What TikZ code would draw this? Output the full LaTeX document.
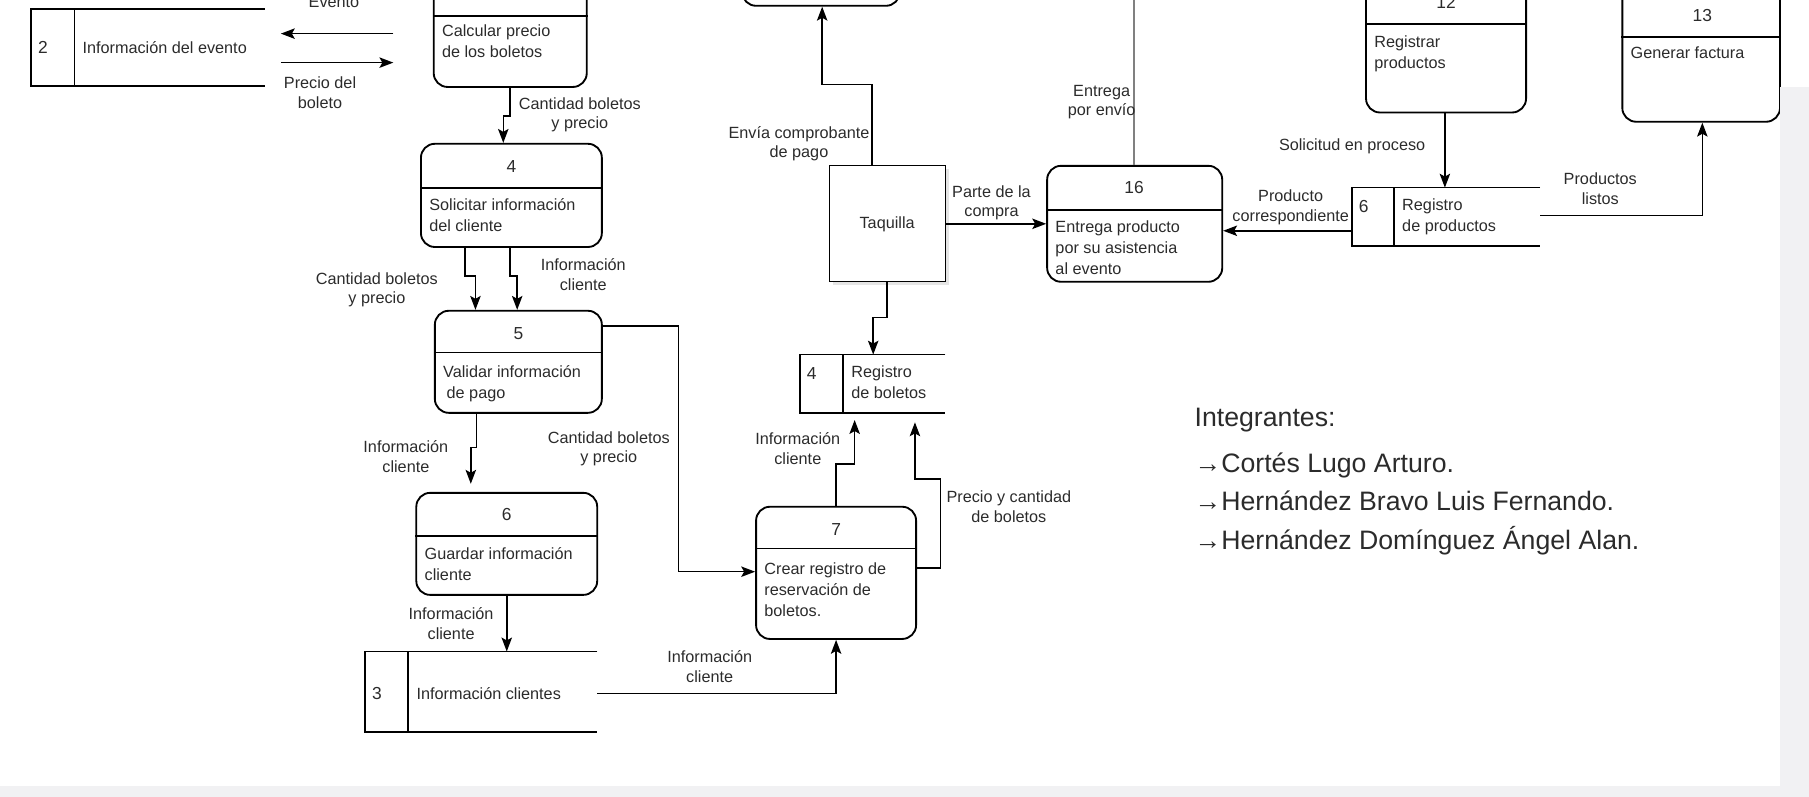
\documentclass[tikz,border=0pt]{standalone}
\usepackage{fontspec}
\setmainfont{Liberation Sans}
\usetikzlibrary{shadows,arrows.meta}
\definecolor{txtgray}{HTML}{2B2B2B}
\definecolor{stripgray}{HTML}{F1F1F3}
\definecolor{flowgray}{HTML}{808080}

\begin{document}
\begin{tikzpicture}[x=1pt, y=-1pt,
    proc/.style={draw, line width=1.6pt, rounded corners=12pt, inner sep=0pt},
    store/.style={inner sep=0pt},
    sline/.style={line width=1.2pt},
    num/.style={text=txtgray, font=\fontsize{15}{18}\selectfont, inner sep=0pt},
    txt/.style={text=txtgray, font=\fontsize{14}{18}\selectfont, align=left, anchor=north west, inner sep=0pt},
    lbl/.style={text=txtgray, font=\fontsize{14}{17}\selectfont, align=center, inner sep=0pt},
    team/.style={text=txtgray, font=\fontsize{23}{28}\selectfont, anchor=west, inner sep=0pt},
    flow/.style={line width=1.3pt, -{Stealth[length=12pt, width=9pt, inset=2.5pt]}}]
  \useasboundingbox (0,0) rectangle (1560,687);
  \clip (0,0) rectangle (1560,687);

  % stores
  \node[store, minimum width=201pt, minimum height=66pt] (s2) at (127.5,41) {};
  \draw[sline] (s2.north east) -- (s2.north west) -- (s2.south west) -- (s2.south east);
  \draw[sline] (s2.north -| 64,0) -- (s2.south -| 64,0);
  \node[num] (s2n) at (37,41) {2};
  \node[txt, anchor=west] (s2t) at (71,41) {Información del evento};

  \node[store, minimum width=200pt, minimum height=69pt] (s3) at (415,596.5) {};
  \draw[sline] (s3.north east) -- (s3.north west) -- (s3.south west) -- (s3.south east);
  \draw[sline] (s3.north -| 352,0) -- (s3.south -| 352,0);
  \node[num] (s3n) at (325,598) {3};
  \node[txt, anchor=west] (s3t) at (359,598) {Información clientes};

  \node[store, minimum width=125pt, minimum height=50pt] (s4) at (752.5,331) {};
  \draw[sline] (s4.north east) -- (s4.north west) -- (s4.south west) -- (s4.south east);
  \draw[sline] (s4.north -| 727,0) -- (s4.south -| 727,0);
  \node[num] (s4n) at (700,322) {4};
  \node[txt] (s4t) at (734,315) {Registro\\de boletos};

  \node[store, minimum width=162pt, minimum height=50pt] (s6) at (1247,187) {};
  \draw[sline] (s6.north east) -- (s6.north west) -- (s6.south west) -- (s6.south east);
  \draw[sline] (s6.north -| 1202,0) -- (s6.south -| 1202,0);
  \node[num] (s6n) at (1176,178) {6};
  \node[txt] (s6t) at (1209,171) {Registro\\de productos};

  % processes
  \node[proc, minimum width=136pt, minimum height=85pt] (tb) at (708,-37.5) {};

  \node[proc, minimum width=132pt, minimum height=95pt] (p3) at (440,27.5) {};
  \draw[line width=1.6pt] (p3.west |- 0,14) -- (p3.east |- 0,14);
  \node[txt] (p3t) at (381,21) {Calcular precio\\de los boletos};

  \node[proc, minimum width=156pt, minimum height=89pt] (p4) at (441,168.5) {};
  \draw[line width=1.6pt] (p4.west |- 0,162) -- (p4.east |- 0,162);
  \node[num] (p4n) at (441,144) {4};
  \node[txt] (p4t) at (370,171) {Solicitar información\\del cliente};

  \node[proc, minimum width=144pt, minimum height=88pt] (p5) at (447,312) {};
  \draw[line width=1.6pt] (p5.west |- 0,304) -- (p5.east |- 0,304);
  \node[num] (p5n) at (447,288) {5};
  \node[txt] (p5t) at (382,315) {Validar información\\\hspace*{3pt}de pago};

  \node[proc, minimum width=156pt, minimum height=88pt] (p6) at (437,469) {};
  \draw[line width=1.6pt] (p6.west |- 0,462) -- (p6.east |- 0,462);
  \node[num] (p6n) at (437,444) {6};
  \node[txt] (p6t) at (366,472) {Guardar información\\cliente};

  \node[proc, minimum width=138pt, minimum height=114pt] (p7) at (721,494) {};
  \draw[line width=1.6pt] (p7.west |- 0,473) -- (p7.east |- 0,473);
  \node[num] (p7n) at (721,457) {7};
  \node[txt] (p7t) at (659,485) {Crear registro de\\reservación de\\boletos.};

  \node[proc, minimum width=151pt, minimum height=100pt] (p16) at (978.5,193) {};
  \draw[line width=1.6pt] (p16.west |- 0,181) -- (p16.east |- 0,181);
  \node[num] (p16n) at (978,162) {16};
  \node[txt] (p16t) at (910,190) {Entrega producto\\por su asistencia\\al evento};

  \node[proc, minimum width=138pt, minimum height=127pt] (p12) at (1247,33.5) {};
  \draw[line width=1.6pt] (p12.west |- 0,21) -- (p12.east |- 0,21);
  \node[num] (p12n) at (1247,2) {12};
  \node[txt] (p12t) at (1185,31) {Registrar\\productos};

  \node[proc, minimum width=136pt, minimum height=135pt] (p13) at (1467,37.5) {};
  \draw[line width=1.6pt] (p13.west |- 0,32) -- (p13.east |- 0,32);
  \node[num] (p13n) at (1468,13) {13};
  \node[txt] (p13t) at (1406,40) {Generar factura};

  % entity
  \node[draw, line width=1pt, fill=white, minimum width=100pt, minimum height=100pt,
    drop shadow={shadow xshift=3pt, shadow yshift=-3pt, fill=black!20},
    text=txtgray, font=\fontsize{14}{17}\selectfont] (taq) at (765,193) {Taquilla};

  % flows
  \draw[flow, shorten >=14pt, shorten <=34pt] (p3.west |- 0,29) -- (s2.east |- 0,29);
  \node[lbl] (l1) at (288,2) {Evento};
  \draw[flow, shorten <=14pt, shorten >=34pt] (s2.east |- 0,54) -- (p3.west |- 0,54);
  \node[lbl] (l2) at (276,80) {Precio del\\boleto};

  \draw[flow] (p3.south -| 440,0) -- (440,100) -- (434,100) -- (p4.north -| 434,0);
  \node[lbl] (l3) at (500,99) {Cantidad boletos\\y precio};

  \draw[flow] (p4.south -| 401,0) -- (401,238) -- (410,238) -- (p5.north -| 410,0);
  \node[lbl] (l4) at (325,250) {Cantidad boletos\\y precio};
  \draw[flow] (p4.south -| 440,0) -- (440,238) -- (446,238) -- (p5.north -| 446,0);
  \node[lbl] (l5) at (503,237) {Información\\cliente};

  \draw[flow] (p5.east |- 0,281) -- (585,281) -- (585,493) -- (p7.west |- 0,493);
  \node[lbl] (l6) at (525,387) {Cantidad boletos\\y precio};

  \draw[flow, shorten >=7pt] (p5.south -| 411,0) -- (411,386) -- (406,386) -- (p6.north -| 406,0);
  \node[lbl] (l7) at (350,394) {Información\\cliente};

  \draw[flow] (p6.south -| 437,0) -- (s3.north -| 437,0);
  \node[lbl] (l8) at (389,538) {Información\\cliente};

  \draw[flow] (s3.east |- 0,598) -- (721,598) -- (p7.south);
  \node[lbl] (l9) at (612,575) {Información\\cliente};

  \draw[flow, shorten >=6pt] (p7.north) -- (721,400) -- (737,400) -- (s4.south -| 737,0);
  \node[lbl] (l10) at (688,387) {Información\\cliente};

  \draw[flow, shorten >=8pt] (p7.east |- 0,490) -- (811,490) -- (811,413) -- (789,413) -- (s4.south -| 789,0);
  \node[lbl] (l11) at (870,437) {Precio y cantidad\\de boletos};

  \draw[flow] (taq.south) -- (765,274) -- (753,274) -- (s4.north -| 753,0);

  \draw[flow] (taq.north -| 752,0) -- (752,73) -- (709,73) -- (tb.south -| 709,0);
  \node[lbl] (l12) at (689,124) {Envía comprobante\\de pago};

  \draw[flow] (taq.east) -- (p16.west |- taq.east);
  \node[lbl] (l13) at (855,175) {Parte de la\\compra};

  \coordinate (env) at (978,-5);
  \draw[line width=1.3pt, flowgray] (p16.north -| 978,0) -- (env);
  \node[lbl] (l14) at (950,88) {Entrega\\por envío};

  \draw[flow] (s6.west |- 0,199) -- (p16.east |- 0,199);
  \node[lbl] (l15) at (1113,179) {Producto\\correspondiente};

  \draw[flow] (p12.south -| 1246,0) -- (s6.north -| 1246,0);
  \node[lbl] (l16) at (1166,126) {Solicitud en proceso};

  \draw[flow] (s6.east |- 0,186) -- (1468,186) -- (p13.south -| 1468,0);
  \node[lbl] (l17) at (1380,163) {Productos\\listos};

  % team
  \node[team] (team) at (1030,362) {Integrantes:};
  \node[team] (m1) at (1030,401) {→Cortés Lugo Arturo.};
  \node[team] (m2) at (1030,432) {→Hernández Bravo Luis Fernando.};
  \node[team] (m3) at (1030,466) {→Hernández Domínguez Ángel Alan.};

  % frame strips
  \fill[stripgray] (1535,75) rectangle (1560,687);
  \fill[stripgray] (0,678) rectangle (1560,687);
\end{tikzpicture}
\end{document}
